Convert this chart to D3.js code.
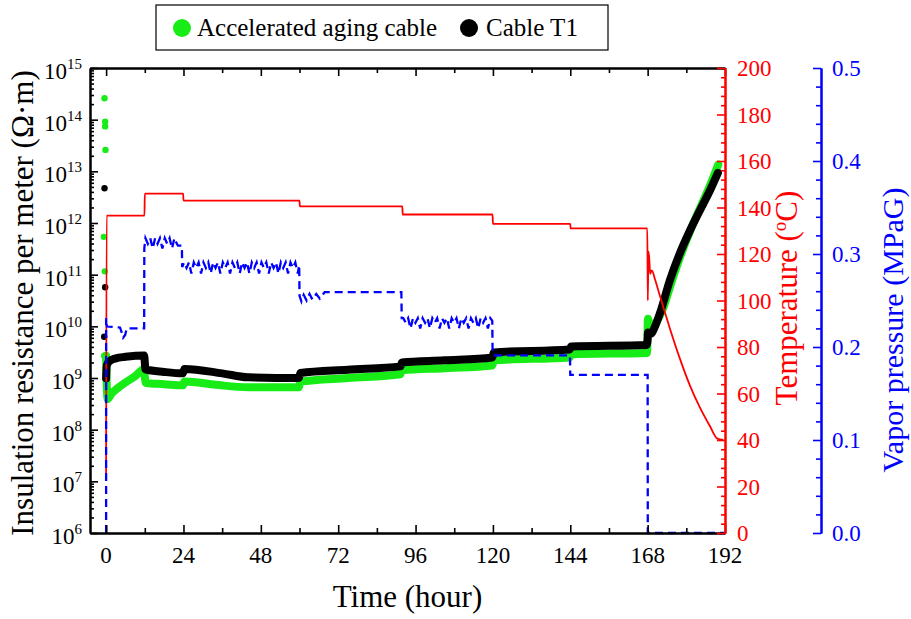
<!DOCTYPE html>
<html>
<head>
<meta charset="utf-8">
<script src="https://cdn.jsdelivr.net/npm/d3@7"></script>
<style>
  body { margin: 0; background: #fff; }
  svg { display: block; font-family: "Liberation Serif", "Times New Roman", serif; }
</style>
</head>
<body>
<svg id="chart" width="911" height="619"></svg>
<script>
// ---- data -------------------------------------------------------------
const hourTicks = [0, 24, 48, 72, 96, 120, 144, 168, 192];
const hourMinorTicks = [12, 36, 60, 84, 108, 132, 156, 180];
const decadeExponents = [6, 7, 8, 9, 10, 11, 12, 13, 14, 15];
const tempTicks = [0, 20, 40, 60, 80, 100, 120, 140, 160, 180, 200];
const pressureTicks = [0.0, 0.1, 0.2, 0.3, 0.4, 0.5];

const seriesNames = ["Accelerated aging cable", "Cable T1"];

// initial readings taken just before the test starts (hour, Ω·m)
const agingInitial = [[-0.5, 2.6e14], [-0.3, 9.1e13], [-0.3, 7.4e13], [-0.2, 2.6e13],
                      [-0.7, 5.4e11], [-0.4, 1.16e11], [-0.6, 2.7e9]];
const t1Initial = [[-0.5, 4.7e12], [-0.3, 5.7e10], [-0.6, 6.3e9]];

// insulation resistance per meter during the test (hour, Ω·m)
const agingResistance = [
  [0, 2.7e9], [0.15, 9.0e8], [0.5, 3.9e8], [1.5, 4.8e8], [3.5, 6.3e8], [6, 8.2e8],
  [9, 1.08e9], [11.7, 1.47e9], [12.3, 8.0e8], [18, 7.6e8], [23.8, 7.2e8], [24.3, 8.6e8],
  [34, 7.4e8], [44, 6.6e8], [59.8, 6.6e8], [60.3, 8.5e8], [75, 1.0e9], [91.3, 1.18e9],
  [91.8, 1.41e9], [105, 1.55e9], [119.8, 1.75e9], [120.3, 2.2e9], [143.8, 2.5e9],
  [144.3, 2.87e9], [167.8, 3.06e9], [168.1, 1.4e10], [168.7, 1.0e10], [169.6, 9.3e9],
  [171, 1.3e10], [172.5, 2.0e10], [175.5, 7.5e10], [178.5, 2.6e11], [181.5, 7.8e11],
  [184.5, 2.1e12], [187.5, 5.6e12], [189.9, 1.35e13]
];
const t1Resistance = [
  [0, 9.8e8], [0.2, 1.75e9], [1, 2.1e9], [3, 2.4e9], [6, 2.57e9], [11.8, 2.74e9],
  [12.2, 1.47e9], [18, 1.31e9], [23.8, 1.23e9], [24.3, 1.5e9], [36, 1.23e9], [44, 1.03e9],
  [59.8, 1.0e9], [60.3, 1.25e9], [75, 1.45e9], [91.3, 1.68e9], [91.8, 2.0e9], [105, 2.2e9],
  [119.8, 2.5e9], [120.3, 3.13e9], [143.8, 3.57e9], [144.3, 4.08e9], [167.7, 4.37e9],
  [168.0, 5.5e9], [168.1, 7.6e9], [169, 7.2e9], [170.3, 1.0e10], [171.8, 1.78e10],
  [174.9, 7.8e10], [178, 2.6e11], [181.1, 7.1e11], [184.2, 1.75e12], [187.3, 4.2e12],
  [189.8, 9.3e12]
];

// chamber temperature (hour, °C)
const temperature = [
  [0, 25.5], [0.15, 136.5], [11.9, 136.5], [12, 146], [23.9, 146], [24, 143], [60, 143],
  [60.1, 140.5], [91.9, 140.5], [92, 137], [119.9, 137], [120, 133], [144, 133], [144.1, 131],
  [167.9, 131], [168.05, 100], [168.25, 121], [168.5, 118], [168.8, 111.5], [169.3, 113],
  [170.3, 109], [171.8, 102], [174.9, 88], [178, 75], [181.1, 63.5], [184.2, 54],
  [187.3, 46], [189.6, 40.6], [191.5, 40]
];

// vapor pressure (hour, MPaG)
const vaporPressure = [
  [0, 0], [0, 0.231], [0.25, 0.222], [4.3, 0.221], [4.8, 0.216], [5.3, 0.21], [5.9, 0.213],
  [6.4, 0.22], [11.8, 0.22], [11.85, 0.306],
  [12.2, 0.317], [12.95, 0.311], [13.7, 0.317], [14.45, 0.306], [15.2, 0.317], [15.95, 0.311],
  [16.7, 0.317], [17.45, 0.306], [18.2, 0.317], [18.95, 0.311], [19.7, 0.317], [20.45, 0.306],
  [21.2, 0.317], [21.95, 0.311], [22.3, 0.309], [23.5, 0.309], [23.6, 0.286],
  [24.2, 0.291], [24.95, 0.285], [25.7, 0.291], [26.45, 0.279], [27.2, 0.291], [27.95, 0.285],
  [28.7, 0.291], [29.45, 0.279], [30.2, 0.291], [30.95, 0.285], [31.7, 0.291], [32.45, 0.279],
  [33.2, 0.291], [33.95, 0.285], [34.7, 0.291], [35.45, 0.279], [36.2, 0.291], [36.95, 0.285],
  [37.7, 0.291], [38.45, 0.279], [39.2, 0.291], [39.95, 0.285], [40.7, 0.291], [41.45, 0.279],
  [42.2, 0.291], [42.95, 0.285], [43.7, 0.291], [44.45, 0.279], [45.2, 0.291], [45.95, 0.285],
  [46.7, 0.291], [47.45, 0.279], [48.2, 0.291], [48.95, 0.285], [49.7, 0.291], [50.45, 0.279],
  [51.2, 0.291], [51.95, 0.285], [52.7, 0.291], [53.45, 0.279], [54.2, 0.291], [54.95, 0.285],
  [55.7, 0.291], [56.45, 0.279], [57.2, 0.291], [57.95, 0.285], [58.7, 0.291], [59.45, 0.279],
  [59.9, 0.288], [60.0, 0.255], [60.6, 0.249], [61.3, 0.256], [62.2, 0.250], [63.1, 0.257],
  [64.0, 0.251], [65.2, 0.257], [66.3, 0.252], [67.8, 0.259], [91.6, 0.259], [91.7, 0.231],
  [92.2, 0.231], [92.95, 0.226], [93.7, 0.231], [94.45, 0.220], [95.2, 0.231], [95.95, 0.226],
  [96.7, 0.231], [97.45, 0.220], [98.2, 0.231], [98.95, 0.226], [99.7, 0.231], [100.45, 0.220],
  [101.2, 0.231], [101.95, 0.226], [102.7, 0.231], [103.45, 0.220], [104.2, 0.231], [104.95, 0.226],
  [105.7, 0.231], [106.45, 0.220], [107.2, 0.231], [107.95, 0.226], [108.7, 0.231], [109.45, 0.220],
  [110.2, 0.231], [110.95, 0.226], [111.7, 0.231], [112.45, 0.220], [113.2, 0.231], [113.95, 0.226],
  [114.7, 0.231], [115.45, 0.220], [116.2, 0.231], [116.95, 0.226], [117.7, 0.231], [118.45, 0.220],
  [119.2, 0.231], [119.8, 0.228], [119.9, 0.194], [120.4, 0.191], [143.9, 0.191], [144.0, 0.170],
  [168.0, 0.170], [168.05, 0], [192, 0]
];

// ---- layout -----------------------------------------------------------
const GREEN = "#17ec17", BLACK = "#000", RED = "#ff0000", BLUE = "#0000ff";
const L = 90, R = 725, T = 68, B = 533, BLUE_AXIS_X = 821;

const svg = d3.select("#chart");

const x = d3.scaleLinear().domain([-5, 192]).range([L, R]);
const yRes = d3.scaleLog().domain([1e6, 1e15]).range([B, T]);
const yTemp = d3.scaleLinear().domain([0, 200]).range([B, T]);
const yPres = d3.scaleLinear().domain([0, 0.5]).range([B, T]);

// ---- series -----------------------------------------------------------
const resLine = d3.line().x(d => x(d[0])).y(d => yRes(d[1])).curve(d3.curveMonotoneX);

svg.append("path").datum(agingResistance)
  .attr("d", resLine).attr("fill", "none").attr("stroke", GREEN)
  .attr("stroke-width", 8).attr("stroke-linejoin", "round").attr("stroke-linecap", "round");
svg.append("g").selectAll("circle").data(agingInitial).join("circle")
  .attr("cx", d => x(d[0])).attr("cy", d => yRes(d[1])).attr("r", 3.2).attr("fill", GREEN);

svg.append("path").datum(t1Resistance)
  .attr("d", resLine).attr("fill", "none").attr("stroke", BLACK)
  .attr("stroke-width", 8).attr("stroke-linejoin", "round").attr("stroke-linecap", "round");
svg.append("g").selectAll("circle").data(t1Initial).join("circle")
  .attr("cx", d => x(d[0])).attr("cy", d => yRes(d[1])).attr("r", 3.2).attr("fill", BLACK);

svg.append("path").datum(temperature)
  .attr("d", d3.line().x(d => x(d[0])).y(d => yTemp(d[1])).curve(d3.curveMonotoneX))
  .attr("fill", "none").attr("stroke", RED).attr("stroke-width", 1.8);

svg.append("path").datum(vaporPressure)
  .attr("d", d3.line().x(d => x(d[0])).y(d => yPres(d[1])))
  .attr("fill", "none").attr("stroke", BLUE).attr("stroke-width", 2.3)
  .attr("stroke-dasharray", "8,5");

// ---- axes -------------------------------------------------------------
function styleAxis(g, color, domainWidth) {
  g.selectAll("text").remove();
  g.select(".domain").attr("stroke", color).attr("stroke-width", domainWidth);
  g.selectAll(".tick line").attr("stroke", color).attr("stroke-width", 1.6);
}
function minorValues(lo, hi, step, majorStep) {
  const out = [];
  for (let v = lo; v <= hi + 1e-9; v += step) {
    const r = v / majorStep;
    if (Math.abs(r - Math.round(r)) > 1e-6) out.push(+v.toFixed(4));
  }
  return out;
}
const decadeValues = decadeExponents.map(e => Math.pow(10, e));
const logMinor = [];
decadeExponents.slice(0, -1).forEach(e => { for (let k = 2; k <= 9; k++) logMinor.push(k * Math.pow(10, e)); });

// left (log) axis, ticks inward
svg.append("g").attr("transform", `translate(${L},0)`)
  .call(d3.axisRight(yRes).tickValues(logMinor).tickSize(4).tickSizeOuter(0).tickFormat(""))
  .call(g => styleAxis(g, BLACK, 2));
svg.append("g").attr("transform", `translate(${L},0)`)
  .call(d3.axisRight(yRes).tickValues(decadeValues).tickSize(8).tickSizeOuter(0).tickFormat(""))
  .call(g => styleAxis(g, BLACK, 2));

// bottom and top time axes, ticks inward
[[B, d3.axisTop], [T, d3.axisBottom]].forEach(([yPos, mk]) => {
  svg.append("g").attr("transform", `translate(0,${yPos})`)
    .call(mk(x).tickValues(hourMinorTicks).tickSize(5).tickSizeOuter(0).tickFormat(""))
    .call(g => styleAxis(g, BLACK, 2));
  svg.append("g").attr("transform", `translate(0,${yPos})`)
    .call(mk(x).tickValues(hourTicks).tickSize(8).tickSizeOuter(0).tickFormat(""))
    .call(g => styleAxis(g, BLACK, 2));
});

// temperature axis (right border of the plot)
svg.append("g").attr("transform", `translate(${R},0)`)
  .call(d3.axisLeft(yTemp).tickValues(minorValues(0, 200, 4, 20)).tickSize(4).tickSizeOuter(0).tickFormat(""))
  .call(g => styleAxis(g, RED, 2));
svg.append("g").attr("transform", `translate(${R},0)`)
  .call(d3.axisLeft(yTemp).tickValues(tempTicks).tickSize(8).tickSizeOuter(0).tickFormat(""))
  .call(g => styleAxis(g, RED, 2));

// vapor pressure axis (offset)
svg.append("g").attr("transform", `translate(${BLUE_AXIS_X},0)`)
  .call(d3.axisLeft(yPres).tickValues(minorValues(0, 0.5, 0.02, 0.1)).tickSize(5).tickSizeOuter(0).tickFormat(""))
  .call(g => styleAxis(g, BLUE, 2));
svg.append("g").attr("transform", `translate(${BLUE_AXIS_X},0)`)
  .call(d3.axisLeft(yPres).tickValues(pressureTicks).tickSize(8).tickSizeOuter(0).tickFormat(""))
  .call(g => styleAxis(g, BLUE, 2));

// ---- tick labels --------------------------------------------------------
const FS = 23;
svg.append("g").selectAll("text").data(hourTicks).join("text")
  .attr("x", d => x(d)).attr("y", B + 30).attr("text-anchor", "middle")
  .attr("font-size", FS).attr("fill", BLACK).text(d => d);

const logLabels = svg.append("g").selectAll("text").data(decadeExponents).join("text")
  .attr("x", L - 8).attr("y", d => yRes(Math.pow(10, d)) + 11).attr("text-anchor", "end")
  .attr("font-size", FS).attr("fill", BLACK);
logLabels.append("tspan").text("10");
logLabels.append("tspan").attr("dy", -10).attr("font-size", 15).text(d => d);

svg.append("g").selectAll("text").data(tempTicks).join("text")
  .attr("x", R + 12).attr("y", d => yTemp(d) + 8)
  .attr("font-size", FS).attr("fill", RED).text(d => d);

svg.append("g").selectAll("text").data(pressureTicks).join("text")
  .attr("x", BLUE_AXIS_X + 11).attr("y", d => yPres(d) + 8)
  .attr("font-size", FS).attr("fill", BLUE).text(d => d.toFixed(1));

// ---- axis titles --------------------------------------------------------
svg.append("text").attr("x", (L + R) / 2).attr("y", 607).attr("text-anchor", "middle")
  .attr("font-size", 31).attr("fill", BLACK).text("Time (hour)");

svg.append("text").attr("transform", "translate(33,303) rotate(-90)")
  .attr("text-anchor", "middle").attr("font-size", 31).attr("fill", BLACK)
  .text("Insulation resistance per meter (Ω·m)");

const tTitle = svg.append("text").attr("transform", "translate(797,298) rotate(-90)")
  .attr("text-anchor", "middle").attr("font-size", 31).attr("fill", RED);
tTitle.append("tspan").text("Temperature (");
tTitle.append("tspan").attr("dy", -11).attr("font-size", 19).text("o");
tTitle.append("tspan").attr("dy", 11).text("C)");

svg.append("text").attr("transform", "translate(903,330) rotate(-90)")
  .attr("text-anchor", "middle").attr("font-size", 30).attr("fill", BLUE)
  .text("Vapor pressure (MPaG)");

// ---- legend -------------------------------------------------------------
const legend = svg.append("g");
legend.append("rect").attr("x", 156).attr("y", 5).attr("width", 452).attr("height", 45)
  .attr("fill", "#fff").attr("stroke", BLACK).attr("stroke-width", 1.2);
const legendItems = [
  { name: seriesNames[0], color: GREEN, cx: 182, tx: 197 },
  { name: seriesNames[1], color: BLACK, cx: 469, tx: 486 }
];
legendItems.forEach(it => {
  legend.append("circle").attr("cx", it.cx).attr("cy", 28).attr("r", 9).attr("fill", it.color);
  legend.append("text").attr("x", it.tx).attr("y", 36).attr("font-size", 25)
    .attr("fill", BLACK).text(it.name);
});
</script>
</body>
</html>
